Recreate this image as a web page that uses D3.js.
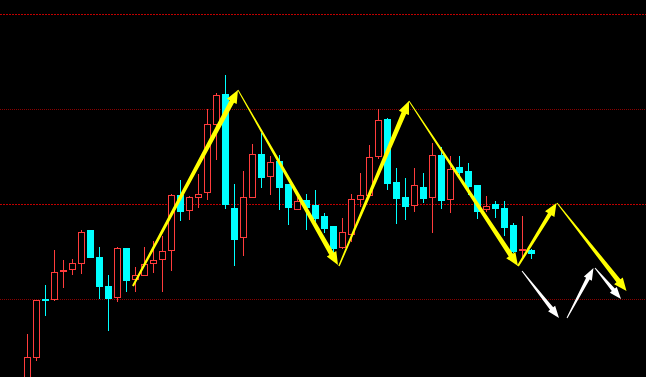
<!DOCTYPE html>
<html><head><meta charset="utf-8">
<script src="https://cdn.jsdelivr.net/npm/d3@7"></script>
<style>html,body{margin:0;padding:0;background:#000;overflow:hidden}</style>
</head><body>
<svg id="c" width="646" height="377"></svg>
<script>
// Candle values (price units), oldest -> newest
const opens  = [1014,1037,1095,1095,1123,1125,1131,1164,1137,1108,1097,1146,1115,1119,1131,1135,1144,1199,1184,1197,1202,1270,1300,1186,1157,1197,1240,1218,1233,1210,1185,1194,1189,1178,1168,1147,1160,1195,1199,1238,1275,1212,1197,1189,1207,1197,1239,1195,1227,1223,1209,1185,1190,1186,1169,1144,1144];
const highs  = [1060,1094,1109,1144,1134,1135,1164,1164,1147,1119,1147,1146,1127,1147,1153,1158,1200,1214,1198,1220,1285,1301,1319,1210,1223,1250,1261,1238,1239,1210,1197,1200,1204,1181,1168,1176,1200,1221,1249,1285,1276,1226,1216,1226,1221,1251,1247,1238,1238,1231,1209,1198,1193,1193,1171,1178,1145];
const lows   = [1006,1033,1078,1093,1106,1119,1120,1136,1095,1063,1092,1102,1102,1118,1121,1102,1123,1173,1174,1186,1194,1234,1185,1128,1138,1197,1206,1199,1184,1169,1185,1164,1172,1161,1141,1145,1152,1187,1199,1235,1204,1170,1174,1182,1191,1161,1185,1181,1217,1199,1175,1182,1176,1158,1141,1137,1135];
const closes = [1037,1094,1094,1122,1124,1131,1162,1137,1108,1096,1146,1114,1119,1130,1134,1143,1199,1183,1197,1200,1270,1299,1190,1155,1197,1240,1217,1232,1207,1187,1193,1187,1176,1166,1146,1162,1195,1199,1237,1274,1211,1196,1188,1209,1196,1239,1194,1225,1222,1208,1183,1188,1186,1167,1143,1145,1141];

// Horizontal reference levels
const levels = [1380, 1285, 1190, 1095];
const levelKinds = ["strong", "weak", "strong", "weak"];

// Annotation arrows in (candle index, price)
const yellowArrows = [
  [[11.74,1108],[23.41,1304]],
  [[23.41,1304],[34.52,1129]],
  [[34.63,1128],[42.41,1293]],
  [[42.41,1293],[54.52,1128]],
  [[54.52,1128],[58.80,1191]],
  [[58.86,1191],[66.58,1103]]
];
const whiteArrows = [
  [[54.97,1123],[59.08,1076]],
  [[59.97,1076],[62.91,1126]],
  [[63.08,1126],[65.97,1095]]
];
const yellowWidths = [[2,5],[1,5],[1.5,5],[1,5],[2,4],[1,5]];

const W = 646, H = 377;
const svg = d3.select("#c");
svg.append("rect").attr("width",W).attr("height",H).attr("fill","#000");

const x = d3.scaleLinear().domain([0,56]).range([27.3,531.3]);
const y = d3.scaleLinear().domain([1017,1394]).range([377,0]);

// levels
svg.append("g").selectAll("line").data(levels).join("line")
  .attr("x1",0).attr("x2",W)
  .attr("y1",d=>Math.round(y(d))+0.5).attr("y2",d=>Math.round(y(d))+0.5)
  .attr("stroke",(d,i)=>levelKinds[i]==="strong"?"#c00000":"#8a0000")
  .attr("stroke-width",1)
  .attr("stroke-dasharray",(d,i)=>levelKinds[i]==="strong"?"2,1":"1,1");

const data = opens.map((o,i)=>({i,o,h:highs[i],l:lows[i],c:closes[i]}));
const up = "#ff3c3c", down = "#00ffff";
const g = svg.append("g");
data.forEach(d=>{
  const cx = Math.round(x(d.i));
  const rising = d.c >= d.o;
  const col = rising ? up : down;
  const top = Math.round(y(Math.max(d.o,d.c)));
  const bot = Math.round(y(Math.min(d.o,d.c)));
  // wick
  g.append("line").attr("x1",cx+0.5).attr("x2",cx+0.5)
    .attr("y1",Math.round(y(d.h))).attr("y2",Math.round(y(d.l)))
    .attr("stroke",col).attr("stroke-width",1);
  if (rising) {
    g.append("rect").attr("x",cx-2.5).attr("y",top+0.5)
      .attr("width",6).attr("height",Math.max(1,bot-top))
      .attr("fill","#000").attr("stroke",col).attr("stroke-width",1);
  } else {
    g.append("rect").attr("x",cx-3).attr("y",top)
      .attr("width",7).attr("height",Math.max(1,bot-top+1))
      .attr("fill",col);
  }
});

function arrowPath(p0,p1,w0,w1,hl,hw){
  const dx=p1[0]-p0[0], dy=p1[1]-p0[1], L=Math.hypot(dx,dy);
  const ux=dx/L, uy=dy/L, nx=-uy, ny=ux;
  const b=[p1[0]-ux*hl, p1[1]-uy*hl];
  const pts=[
    [p0[0]+nx*w0/2,p0[1]+ny*w0/2],
    [b[0]+nx*w1/2,b[1]+ny*w1/2],
    [b[0]+nx*hw/2,b[1]+ny*hw/2],
    p1,
    [b[0]-nx*hw/2,b[1]-ny*hw/2],
    [b[0]-nx*w1/2,b[1]-ny*w1/2],
    [p0[0]-nx*w0/2,p0[1]-ny*w0/2]
  ];
  return d3.line()(pts)+"Z";
}
const toPx = p=>[x(p[0]),y(p[1])];
const ag = svg.append("g");
yellowArrows.forEach((a,k)=>{
  ag.append("path").attr("d",arrowPath(toPx(a[0]),toPx(a[1]),yellowWidths[k][0],yellowWidths[k][1],13,11))
    .attr("fill","#ffff00");
});
whiteArrows.forEach(a=>{
  ag.append("path").attr("d",arrowPath(toPx(a[0]),toPx(a[1]),1,4,12,9))
    .attr("fill","#ffffff");
});
</script>
</body></html>
